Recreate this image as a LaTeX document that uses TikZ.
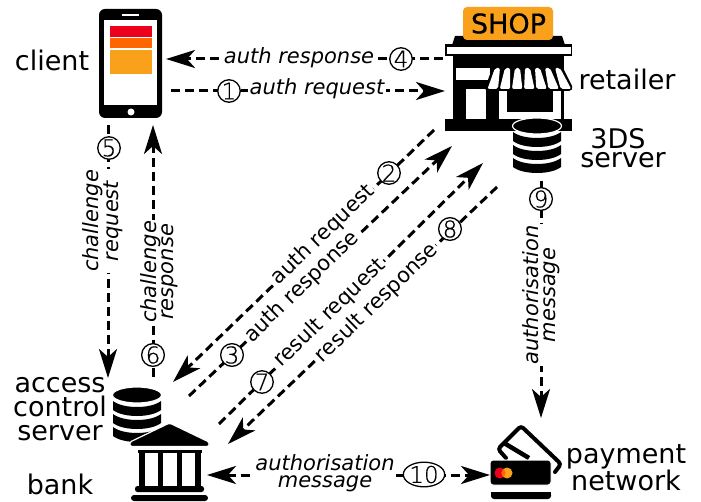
\documentclass[tikz,border=0pt]{standalone}
\usepackage{fontspec}
\setmainfont{DejaVu Sans}
\newfontfamily\numfam[FakeBold=0.5]{DejaVu Sans ExtraLight}
\newfontfamily\shopfam[FakeBold=0.6]{DejaVu Sans}
\usetikzlibrary{arrows.meta,shapes.geometric}
\newcommand{\bigf}{\fontsize{27}{24}\selectfont}
\newcommand{\labf}{\fontsize{21}{16.5}\selectfont}
\newcommand{\numf}{\numfam\fontsize{23}{23}\selectfont}
\newcommand{\dbicon}[2]{%
  \begin{scope}[shift={(#1,#2)}]
    \foreach \a in {6,19,32}{
      \fill[black] (-24,\a) .. controls (-14,\a+8) and (14,\a+8) .. (24,\a) -- (24,\a+9) .. controls (14,\a+17) and (-14,\a+17) .. (-24,\a+9) -- cycle;
    }
    \draw[white,fill=black,line width=1.2] (0,0) ellipse [x radius=24.5,y radius=8];
  \end{scope}}
\definecolor{shopred}{RGB}{236,0,28}
\definecolor{shopdeep}{RGB}{255,102,0}
\definecolor{shopamber}{RGB}{249,161,27}
\tikzset{
  x=1pt,y=-1pt,
  conn/.style={line width=3,dash pattern=on 9 off 5,black},
  tipend/.style={-{Stealth[length=29pt,width=18pt,inset=8pt]}},
  tipboth/.style={{Stealth[length=29pt,width=18pt,inset=8pt]}-{Stealth[length=29pt,width=18pt,inset=8pt]}},
  num/.style={circle,draw=black,line width=1.3,fill=white,inner sep=0,minimum size=22.5,font=\numf},
  numwide/.style={ellipse,draw=black,line width=1.3,fill=white,inner sep=0,minimum width=40,minimum height=22.5,font=\numf},
  lab/.style={fill=white,inner xsep=1.5,inner ysep=0,align=center,font=\labf\itshape},
  labup/.style={fill=white,inner xsep=1.5,inner ysep=0,align=center,font=\labf},
  big/.style={inner sep=0,align=center,font=\bigf},
}
\begin{document}
\begin{tikzpicture}
\useasboundingbox (0,0) rectangle (701,502);
% phone
\fill[black,rounded corners=6] (99,9) rectangle (162,118);
\fill[white] (104,20) rectangle (157,105);
\fill[white] (122,14) rectangle (139,16);
\fill[white] (131,112) circle (3.5);
\fill[shopred] (110,26) rectangle (152,37);
\fill[shopdeep] (110,38) rectangle (152,48);
\fill[shopamber] (110,50) rectangle (152,74);
% shop
\fill[black] (453,56) rectangle (564,120);
\fill[black] (455,36) -- (562,36) -- (565,45) -- (452,45) -- cycle;
\fill[black] (445,44) rectangle (572,56);
\fill[white] (447,47) rectangle (571,54);
\fill[white] (456,68) rectangle (490,80);
\fill[white] (466,89) rectangle (486,119);
\fill[white] (499,88) rectangle (561,119);
\fill[black] (507,88) rectangle (553,112);
\fill[black] (445,119) rectangle (572,131);
\fill[black,rounded corners=2] (493,66) -- (562,66) -- (573,88) -- (571,91) -- (486,91) -- (485,88) -- cycle;
\foreach \i in {0,...,6}{
  \fill[white,rounded corners=2]
    ({495+\i*10},68) -- ({500+\i*10},68) -- ({498+\i*12.2},89) -- ({487.5+\i*12.2},89) -- cycle;
}
\fill[shopamber,rounded corners=4] (463,7) rectangle (553,40);
\node[inner sep=0,text=black,font=\shopfam\fontsize{27}{27}\selectfont] (shoptext) at (508.5,23.5) {SHOP};
\dbicon{537}{126}
% acs db
\dbicon{137}{395}
% bank
\draw[white,fill=black,line width=1.2,rounded corners=1.5] (169.5,423) -- (209,442) -- (209,446.5) -- (130,446.5) -- (130,442) -- cycle;
\fill[white] (125,447) rectangle (212,502);
\fill[black] (138,450) rectangle (202,453);
\fill[black] (139,450) rectangle (145,488);
\fill[black] (158,450) rectangle (163,488);
\fill[black] (177,450) rectangle (182,488);
\fill[black] (195,450) rectangle (201,488);
\fill[black,rounded corners=2.5] (135,486) rectangle (204,492);
\fill[black,rounded corners=3] (131,495) rectangle (208,501);
% card
\draw[black,line width=4,rounded corners=3,line cap=round] (506,458) -- (498,449) -- (521,426) -- (561,464) -- (555,472);
\draw[black,line width=4.5] (504,443) -- (529,458);
\draw[white,fill=black,line width=1,rounded corners=3] (490,460) rectangle (551,485);
\fill[black,rounded corners=3] (491,492) rectangle (551,499);
\fill[black] (491,492) rectangle (551,495);
\fill[shopred] (500,473) circle (5.5);
\fill[shopamber] (507,473) circle (5.5);
\begin{scope}
  \clip (500,473) circle (5.5);
  \fill[shopdeep] (507,473) circle (5.5);
\end{scope}
% icon text
\node[big] (client) at (52,60) {client};
\node[big] (retailer) at (627,79) {retailer};
\node[big] (tds) at (618,139) {3DS};
\node[big] (tdss) at (623,160) {server};
\node[big] (acs) at (60,409) {access\\control\\server};
\node[big] (bank) at (60,484) {bank};
\node[big] (pay) at (626,468) {payment\\network};
% endpoints
\coordinate (a1) at (171,91); \coordinate (b1) at (445,91);
\coordinate (a4) at (443,59); \coordinate (b4) at (166,59);
\coordinate (a5) at (108,125); \coordinate (b5) at (108,378);
\coordinate (a6) at (153,377); \coordinate (b6) at (153,125);
\coordinate (a2) at (434,130); \coordinate (b2) at (173,382);
\coordinate (a3) at (189,396); \coordinate (b3) at (452,146);
\coordinate (a7) at (219,424); \coordinate (b7) at (483,163);
\coordinate (a8) at (497,187); \coordinate (b8) at (228,444);
\coordinate (a9) at (541,181); \coordinate (b9) at (541,418);
\coordinate (a10) at (207,475); \coordinate (b10) at (490,475);
\foreach \p/\q in {a1/b1,a4/b4,a5/b5,a6/b6,a2/b2,a3/b3,a7/b7,a8/b8,a9/b9}{
  \draw[conn,tipend] (\p) -- (\q);
}
\draw[conn,tipboth] (a10) -- (b10);
% labels
\node[lab] (l1) at (317,89) {auth request};
\node[lab] (l4) at (299,58) {auth response};
\node[lab,rotate=90] (l5) at (103,221) {challenge\\request};
\node[lab,rotate=90] (l6) at (159,272) {challenge\\response};
\node[labup,rotate=44] (l2) at (323,235) {auth request};
\node[labup,rotate=44] (l3) at (302,287) {auth response};
\node[labup,rotate=44] (l7) at (330,313) {result request};
\node[labup,rotate=44] (l8) at (377,303) {result response};
\node[lab,rotate=90] (l9) at (541,295) {authorisation\\message};
\node[lab] (l10) at (325,473) {authorisation\\message};
\node[num] (n1) at (229,91) {1};
\node[num] (n2) at (389,173) {2};
\node[num] (n3) at (232,355) {3};
\node[num] (n4) at (401,59) {4};
\node[num] (n5) at (109,148) {5};
\node[num] (n6) at (153,355) {6};
\node[num] (n7) at (262,382) {7};
\node[num] (n8) at (450,229) {8};
\node[num] (n9) at (541,199) {9};
\node[numwide] (n10) at (424,474.5) {10};
\end{tikzpicture}
\end{document}
